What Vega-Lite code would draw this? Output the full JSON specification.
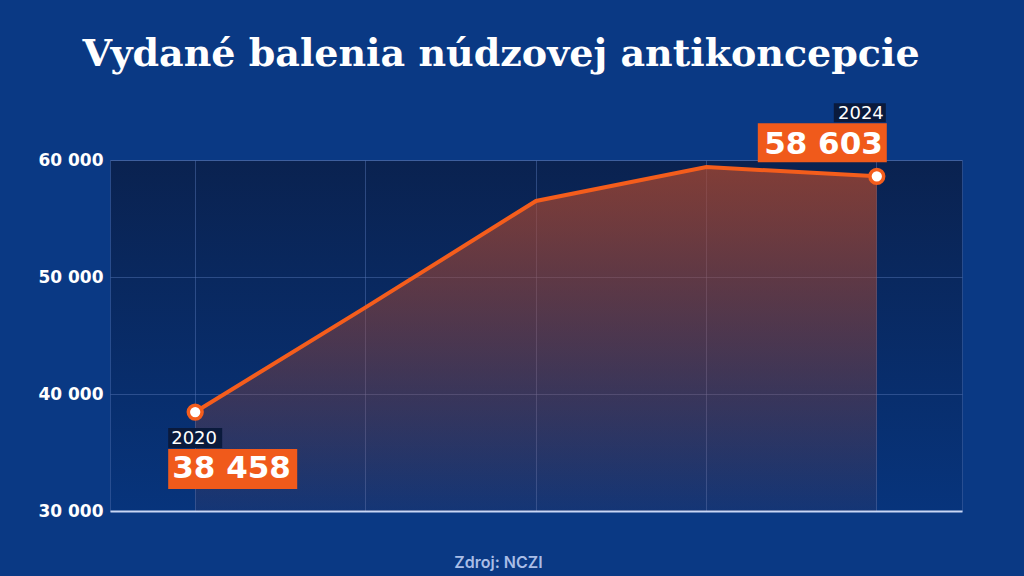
{
  "$schema": "https://vega.github.io/schema/vega-lite/v6.json",
  "autosize": "none",
  "width": 852,
  "height": 351,
  "padding": {"left": 110, "top": 160, "right": 62, "bottom": 65},
  "background": "#0a3984",
  "title": {
    "text": "Vydané balenia núdzovej antikoncepcie",
    "font": "DejaVu Serif",
    "fontWeight": "bold",
    "fontSize": 38,
    "color": "#ffffff",
    "anchor": "middle",
    "dx": -35,
    "baseline": "alphabetic",
    "offset": -1
  },
  "config": {
    "locale": {"number": {"decimal": ",", "thousands": " ", "grouping": [3], "currency": ["", " €"]}},
    "view": {
      "fill": {"gradient": "linear", "x1": 0, "y1": 0, "x2": 0, "y2": 1, "stops": [{"offset": 0, "color": "#0a2250"}, {"offset": 1, "color": "#07347c"}]},
      "stroke": "#3d5f9e",
      "strokeOpacity": 0.6,
      "strokeWidth": 1
    }
  },
  "data": {
    "values": [
      {"year": "2020", "value": 38458},
      {"year": "2021", "value": 47400},
      {"year": "2022", "value": 56500},
      {"year": "2023", "value": 59400},
      {"year": "2024", "value": 58603}
    ]
  },
  "encoding": {
    "x": {
      "field": "year",
      "type": "ordinal",
      "scale": {"type": "band", "paddingInner": 0, "paddingOuter": 0},
      "axis": {
        "labels": false,
        "ticks": false,
        "domain": true,
        "domainColor": "#c9d7f5",
        "domainWidth": 2,
        "grid": true,
        "gridColor": "#5878b8",
        "gridOpacity": 0.45,
        "gridWidth": 1,
        "title": "Zdroj: NCZI",
        "titleFont": "Inter",
        "titleFontSize": 16,
        "titleFontWeight": 600,
        "titleColor": "#a9bde6",
        "titleX": 388,
        "titleY": 56,
        "titleAlign": "center",
        "titleBaseline": "alphabetic"
      }
    },
    "y": {
      "field": "value",
      "type": "quantitative",
      "scale": {"domain": [30000, 60000], "zero": false, "nice": false},
      "axis": {
        "title": null,
        "values": [30000, 40000, 50000, 60000],
        "format": ",d",
        "domain": false,
        "ticks": false,
        "labelColor": "#ffffff",
        "labelFont": "DejaVu Sans",
        "labelFontSize": 17,
        "labelFontWeight": "bold",
        "labelPadding": 7,
        "grid": true,
        "gridColor": "#5878b8",
        "gridOpacity": 0.45,
        "gridWidth": 1
      }
    }
  },
  "resolve": {"scale": {"shape": "independent"}},
  "layer": [
    {
      "mark": {
        "type": "area",
        "color": {"gradient": "linear", "x1": 0, "y1": 0, "x2": 0, "y2": 1, "stops": [{"offset": 0, "color": "rgba(175,72,45,0.72)"}, {"offset": 1, "color": "rgba(175,72,45,0.08)"}]}
      },
      "encoding": {"y2": {"datum": 30000}}
    },
    {
      "mark": {"type": "line", "color": "#f45d1c", "strokeWidth": 4, "strokeJoin": "miter"}
    },
    {
      "transform": [{"filter": "datum.year == '2020' || datum.year == '2024'"}],
      "mark": {"type": "point", "filled": true, "fill": "#ffffff", "stroke": "#f45d1c", "strokeWidth": 3.5, "size": 190, "opacity": 1}
    },
    {
      "transform": [{"filter": "datum.year == '2020' || datum.year == '2024'"}],
      "mark": {"type": "point", "filled": true, "color": "#0a1a3c", "size": 4, "opacity": 1},
      "encoding": {
        "shape": {"field": "year", "type": "nominal", "scale": {"domain": ["2020", "2024"], "range": ["M-27,16H27V36H-27Z", "M-43,-73H9V-54H-43Z"]}, "legend": null}
      }
    },
    {
      "transform": [{"filter": "datum.year == '2020' || datum.year == '2024'"}],
      "mark": {"type": "point", "filled": true, "color": "#f05a1b", "size": 4, "opacity": 1},
      "encoding": {
        "shape": {"field": "year", "type": "nominal", "scale": {"domain": ["2020", "2024"], "range": ["M-27,37H102V77H-27Z", "M-119,-53H10V-14H-119Z"]}, "legend": null}
      }
    },
    {
      "transform": [{"filter": "datum.year == '2020'"}],
      "mark": {"type": "text", "align": "left", "baseline": "alphabetic", "dx": -24, "dy": 32, "font": "DejaVu Sans", "fontSize": 18, "color": "#ffffff"},
      "encoding": {"text": {"field": "year"}}
    },
    {
      "transform": [{"filter": "datum.year == '2020'"}],
      "mark": {"type": "text", "align": "left", "baseline": "alphabetic", "dx": -23, "dy": 66, "font": "DejaVu Sans", "fontSize": 31, "fontWeight": "bold", "color": "#ffffff"},
      "encoding": {"text": {"field": "value", "format": ",d"}}
    },
    {
      "transform": [{"filter": "datum.year == '2024'"}],
      "mark": {"type": "text", "align": "right", "baseline": "alphabetic", "dx": 7, "dy": -57, "font": "DejaVu Sans", "fontSize": 18, "color": "#ffffff"},
      "encoding": {"text": {"field": "year"}}
    },
    {
      "transform": [{"filter": "datum.year == '2024'"}],
      "mark": {"type": "text", "align": "right", "baseline": "alphabetic", "dx": 6, "dy": -22, "font": "DejaVu Sans", "fontSize": 31, "fontWeight": "bold", "color": "#ffffff"},
      "encoding": {"text": {"field": "value", "format": ",d"}}
    }
  ]
}
